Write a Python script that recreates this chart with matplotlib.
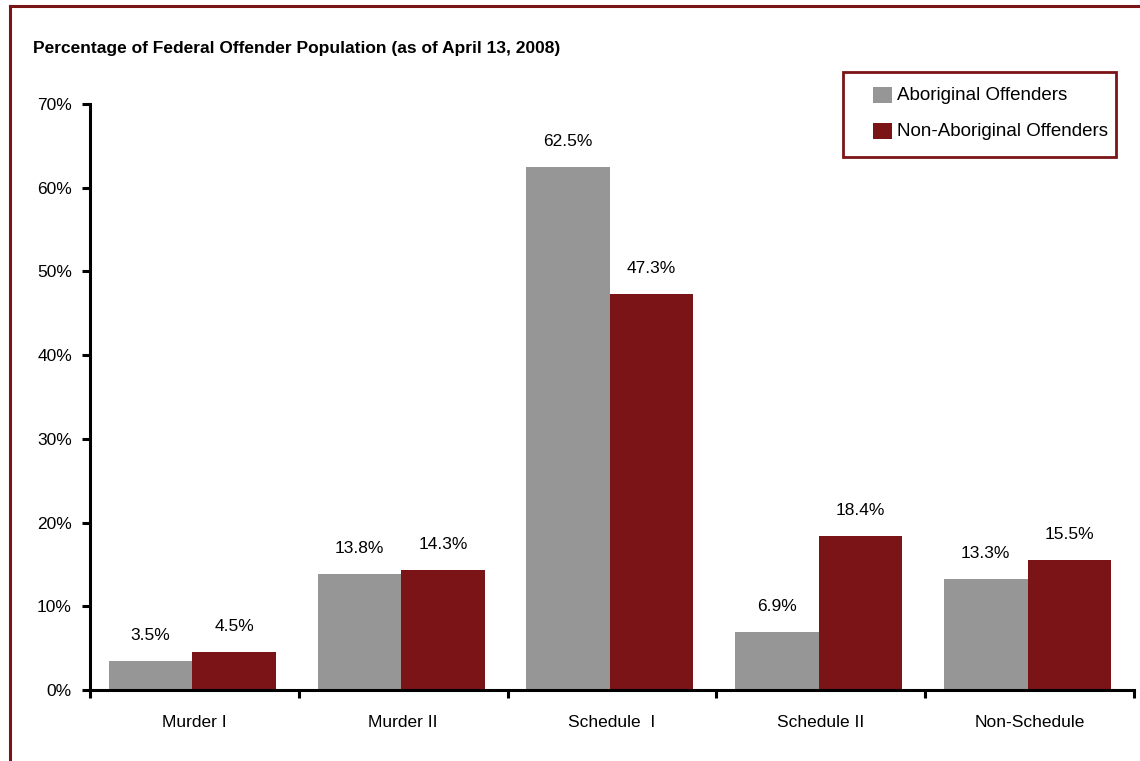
import matplotlib
matplotlib.use("Agg")
import matplotlib.pyplot as plt
from matplotlib.patches import Rectangle
from matplotlib.lines import Line2D
from matplotlib import font_manager

# ---- data ----
categories = ["Murder I", "Murder II", "Schedule  I", "Schedule II", "Non-Schedule"]
aboriginal = [3.5, 13.8, 62.5, 6.9, 13.3]
non_aboriginal = [4.5, 14.3, 47.3, 18.4, 15.5]
series_names = ["Aboriginal Offenders", "Non-Aboriginal Offenders"]
y_ticks = [0, 10, 20, 30, 40, 50, 60, 70]
title = "Percentage of Federal Offender Population (as of April 13, 2008)"

GRAY = "#969696"
MAROON = "#7B1416"

available = {f.name for f in font_manager.fontManager.ttflist}
narrow = "Liberation Sans Narrow" if "Liberation Sans Narrow" in available else "Liberation Sans"
plt.rcParams["font.family"] = [narrow, "DejaVu Sans"]

fig = plt.figure(figsize=(11.4, 7.61), dpi=100)
W, H = 1140, 761


def fx(px):
    return px / W


def fy(py):
    return 1 - py / H


# outer frame: top and left rules
fig.add_artist(Line2D([fx(10), fx(10)], [0, fy(6)], transform=fig.transFigure,
                      color=MAROON, lw=2.2))
fig.add_artist(Line2D([fx(10), 1.0], [fy(6), fy(6)], transform=fig.transFigure,
                      color=MAROON, lw=2.2))

ax = fig.add_axes([fx(90), fy(690), fx(1134 - 90), (690 - 104) / H])

x = list(range(len(categories)))
bw = 0.4
xa = [i - bw / 2 - 0.01 for i in x]
xn = [i + bw / 2 - 0.01 for i in x]
ba = ax.bar(xa, aboriginal, width=bw, color=GRAY, label=series_names[0], zorder=2)
bn = ax.bar(xn, non_aboriginal, width=bw, color=MAROON, label=series_names[1], zorder=2)

for bars, vals in ((ba, aboriginal), (bn, non_aboriginal)):
    for b, v in zip(bars, vals):
        ax.annotate(f"{v:.1f}%", (b.get_x() + b.get_width() / 2, v),
                    xytext=(0, 13), textcoords="offset points",
                    ha="center", va="bottom", fontsize=12.5)

ax.set_xlim(-0.5, len(categories) - 0.5)
ax.set_ylim(0, 70)
ax.set_yticks(y_ticks)
ax.set_yticklabels([f"{t}%" for t in y_ticks], fontsize=12.5)
ax.set_xticks(x)
ax.set_xticklabels(categories, fontsize=12.5)
ax.set_xticks([i - 0.5 for i in range(len(categories) + 1)], minor=True)
ax.tick_params(axis="x", which="major", length=0, pad=18)
ax.tick_params(axis="x", which="minor", length=6, width=2.2, direction="out")
ax.tick_params(axis="y", length=6, width=2.2, direction="out", pad=7)

for s in ("top", "right"):
    ax.spines[s].set_visible(False)
for s in ("left", "bottom"):
    ax.spines[s].set_linewidth(2.2)

fig.text(fx(33), fy(48), title, fontsize=12.5, fontweight="bold",
         ha="left", va="center")

# legend box with swatches, laid out in figure pixels
fig.add_artist(Rectangle((fx(843), fy(157)), fx(1116 - 843), (157 - 72) / H,
                         transform=fig.transFigure, fill=False,
                         edgecolor=MAROON, lw=2))
for name, color, cy in ((series_names[0], GRAY, 95), (series_names[1], MAROON, 131)):
    fig.add_artist(Rectangle((fx(873), fy(cy + 8)), fx(19), 16 / H,
                             transform=fig.transFigure, facecolor=color,
                             edgecolor="none"))
    fig.text(fx(897), fy(cy), name, fontsize=13.5, ha="left", va="center")

fig.savefig("out.png", dpi=100)
